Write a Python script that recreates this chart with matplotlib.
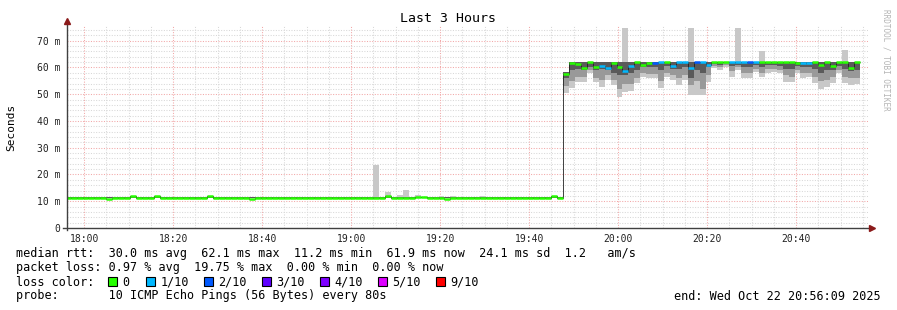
import matplotlib
matplotlib.use("Agg")
import matplotlib.pyplot as plt
from matplotlib.patches import Rectangle

W, H = 897, 310
MONO = "DejaVu Sans Mono"

# time axis: minutes relative to 18:00, one sample every 80 s
x_start, x_end = -3.85, 176.15
first_sample = -4.36
step_min = 80 / 60
tick_pos = [0, 20, 40, 60, 80, 100, 120, 140, 160]
tick_labels = ["18:00", "18:20", "18:40", "19:00", "19:20", "19:40",
               "20:00", "20:20", "20:40"]
ytick_pos = [0, 10, 20, 30, 40, 50, 60, 70]
ytick_labels = ["0", "10 m", "20 m", "30 m", "40 m", "50 m", "60 m", "70 m"]

# first part (until ~19:48): flat around 11.3 ms
flat_count = 84
flat_median = 11.3
flat_low = 11.1
flat_high = 11.5
flat_median_bumps = {7: 10.9, 11: 11.8, 15: 11.8, 24: 11.8, 31: 10.9,
                     54: 12.0, 59: 11.6, 60: 11.6, 64: 10.9, 82: 11.8}
flat_max_spikes = {52: 23.7, 54: 13.5, 56: 12.4, 57: 14.3, 59: 12.4,
                   63: 12.0, 65: 12.0, 70: 11.9}

# second part (after ~19:48)
high_median = [57.6, 61.5, 61.2, 59.8, 62.1, 60.1, 60.6, 59.9, 61.6, 60.3,
               58.6, 60.6, 62.0, 61.0, 61.8, 61.5, 62.0, 61.9, 60.6, 61.9,
               61.9, 59.7, 61.9, 61.9, 61.0, 61.9, 61.9, 61.9, 61.9, 61.9,
               61.9, 61.9, 61.9, 61.9, 61.9, 61.9, 61.9, 61.9, 61.9, 61.8,
               61.5, 61.5, 61.9, 61.1, 61.9, 60.7, 61.9, 61.9, 59.7, 61.9]
high_loss = [0, 0, 0, 0, 0, 0, 1, 1, 0, 0,
             1, 1, 0, 0, 0, 2, 1, 0, 1, 1,
             1, 1, 2, 1, 1, 0, 0, 0, 1, 1,
             1, 2, 1, 0, 0, 0, 0, 0, 0, 0,
             1, 1, 0, 0, 0, 0, 0, 0, 0, 0]
high_min = [50.3, 52.2, 54.7, 54.4, 57.8, 54.7, 52.8, 55.3, 53.4, 49.1,
            50.9, 51.3, 54.1, 56.6, 55.9, 55.9, 52.2, 56.6, 55.3, 53.4,
            55.3, 49.7, 49.7, 49.7, 54.7, 59.7, 59.0, 60.3, 56.6, 59.2,
            55.9, 56.2, 58.4, 56.6, 58.0, 58.4, 57.8, 54.7, 54.4, 57.8,
            56.2, 56.6, 54.1, 52.0, 52.8, 54.1, 57.8, 54.1, 53.4, 54.0]
high_p2 = [53.0, 55.0, 56.5, 56.5, 59.0, 56.0, 55.5, 57.0, 55.5, 52.0,
           54.0, 54.0, 56.0, 58.0, 57.5, 57.5, 55.0, 58.0, 57.0, 56.0,
           57.0, 53.5, 55.0, 52.0, 57.0, 60.5, 60.0, 61.0, 58.5, 60.0,
           58.0, 58.0, 59.5, 58.0, 59.5, 59.5, 59.0, 57.0, 56.5, 59.0,
           58.0, 58.0, 56.5, 55.0, 55.5, 56.5, 59.0, 56.5, 56.0, 56.0]
high_p4 = [56.0, 59.0, 59.5, 59.0, 60.0, 59.0, 59.5, 59.0, 58.0, 57.0,
           57.0, 58.0, 59.0, 60.0, 60.0, 60.0, 59.0, 60.5, 59.5, 59.5,
           60.0, 56.0, 59.0, 58.0, 60.0, 61.3, 61.0, 61.5, 60.5, 61.0,
           60.0, 60.0, 60.8, 60.0, 60.8, 61.0, 60.5, 59.5, 59.5, 60.5,
           60.0, 60.0, 59.5, 58.0, 59.0, 59.0, 60.5, 59.5, 58.5, 59.0]
high_top = [58.2] + [62.1] * 49
high_max = [58.2, 62.1, 62.1, 62.1, 62.1, 62.1, 62.1, 62.1, 62.1, 62.1,
            74.6, 62.1, 62.1, 62.1, 62.1, 62.1, 62.1, 62.1, 62.1, 62.1,
            62.1, 74.6, 62.1, 62.1, 62.1, 62.1, 62.1, 62.1, 62.1, 74.6,
            62.1, 62.1, 62.1, 66.1, 62.1, 62.1, 62.1, 62.1, 62.1, 62.1,
            62.1, 62.1, 62.1, 62.1, 62.1, 62.1, 62.1, 66.4, 62.1, 62.1]

loss_colors = {0: "#26ff00", 1: "#00b8ff", 2: "#0059ff", 3: "#5e00ff",
               4: "#7e00ff", 5: "#dd00ff", 9: "#ff0000"}
loss_names = ["0", "1/10", "2/10", "3/10", "4/10", "5/10", "9/10"]
loss_keys = [0, 1, 2, 3, 4, 5, 9]

legend_lines = [
    "median rtt:  30.0 ms avg  62.1 ms max  11.2 ms min  61.9 ms now  24.1 ms sd  1.2   am/s",
    "packet loss: 0.97 % avg  19.75 % max  0.00 % min  0.00 % now",
]
probe_line = "probe:       10 ICMP Echo Pings (56 Bytes) every 80s"
end_line = "end: Wed Oct 22 20:56:09 2025"

# full series
median = [flat_median_bumps.get(k, flat_median) for k in range(flat_count)] + high_median
loss = [0] * flat_count + high_loss
ping_min = [flat_low] * flat_count + high_min
ping_p2 = [flat_low] * flat_count + high_p2
ping_p4 = [flat_low] * flat_count + high_p4
ping_top = [flat_high] * flat_count + high_top
ping_max = [flat_max_spikes.get(k, flat_high) for k in range(flat_count)] + high_max

n = len(median)
starts = [first_sample + k * step_min for k in range(n)]
edges = starts + [first_sample + n * step_min]

fig = plt.figure(figsize=(W / 100, H / 100), dpi=100)
fig.patch.set_facecolor("white")
ax = fig.add_axes([67 / W, (H - 228) / H, 801 / W, 202 / H])
ax.set_xlim(x_start, x_end)
ax.set_ylim(0, 75.5)
for s in ax.spines.values():
    s.set_visible(False)

# grid
minor_kw = dict(color="#d8d8d8", lw=0.75, linestyle=(0, (1, 1.5)), zorder=0)
major_kw = dict(color="#f2a8a8", lw=0.75, linestyle=(0, (1, 1.5)), zorder=0)
for v in range(2, 76, 2):
    ax.axhline(v, **(major_kw if v % 10 == 0 else minor_kw))
for m in range(0, 176, 5):
    ax.axvline(m, **(major_kw if m % 20 == 0 else minor_kw))

# smoke
widths = [step_min] * n
ax.bar(starts, [b - a for a, b in zip(ping_min, ping_max)], bottom=ping_min,
       width=widths, align="edge", color="#c8c8c8", linewidth=0, zorder=2)
ax.bar(starts, [b - a for a, b in zip(ping_p2, ping_top)], bottom=ping_p2,
       width=widths, align="edge", color="#999999", linewidth=0, zorder=3)
ax.bar(starts, [b - a for a, b in zip(ping_p4, ping_top)], bottom=ping_p4,
       width=widths, align="edge", color="#5a5a5a", linewidth=0, zorder=4)

# median
ax.stairs(median, edges, baseline=None, color="#202020", lw=0.6, zorder=5)
ax.hlines(median, starts, edges[1:], colors=[loss_colors[l] for l in loss],
          lw=1.8, capstyle="butt", zorder=6)

# ticks
ax.set_xticks(tick_pos, tick_labels, fontfamily=MONO, fontsize=7)
ax.set_yticks(ytick_pos, ytick_labels, fontfamily=MONO, fontsize=7)
ax.tick_params(axis="both", length=0, colors="#222222")
ax.tick_params(axis="x", pad=4)
ax.tick_params(axis="y", pad=5)

# axis lines with arrows
ax.plot([0, 0], [-0.01, 1.02], transform=ax.transAxes, color="#404040",
        lw=1.0, clip_on=False, zorder=7)
ax.plot([-0.005, 1.003], [0, 0], transform=ax.transAxes, color="#404040",
        lw=1.0, clip_on=False, zorder=7)
ax.plot([0], [1.025], marker="^", markersize=4, color="#8b1a1a",
        transform=ax.transAxes, clip_on=False, zorder=8)
ax.plot([1.005], [0], marker=">", markersize=4, color="#8b1a1a",
        transform=ax.transAxes, clip_on=False, zorder=8)


def px_text(x, y, s, **kw):
    fig.text(x / W, 1 - y / H, s, fontfamily=MONO, va="center", **kw)


px_text(448, 19, "Last 3 Hours", fontsize=9.5, ha="center")
px_text(11, 127, "Seconds", fontsize=8, ha="center", rotation=90)
px_text(886, 60, "RRDTOOL / TOBI OETIKER", fontsize=5.5, ha="center",
        rotation=270, color="#b4b4b4")

px_text(16, 254, legend_lines[0], fontsize=8.5, ha="left")
px_text(16, 268, legend_lines[1], fontsize=8.5, ha="left")
px_text(16, 282, "loss color:", fontsize=8.5, ha="left")
box_x = [108, 146, 204, 262, 320, 378, 436]
for bx, key, name in zip(box_x, loss_keys, loss_names):
    fig.add_artist(Rectangle((bx / W, 1 - 286 / H), 9 / W, 9 / H,
                             transform=fig.transFigure,
                             facecolor=loss_colors[key], edgecolor="black",
                             lw=0.8))
    px_text(bx + 14.5, 282, name, fontsize=8.5, ha="left")
px_text(16, 296, probe_line, fontsize=8.5, ha="left")
px_text(881, 296, end_line, fontsize=8.5, ha="right")

fig.savefig("out.png", dpi=100)
